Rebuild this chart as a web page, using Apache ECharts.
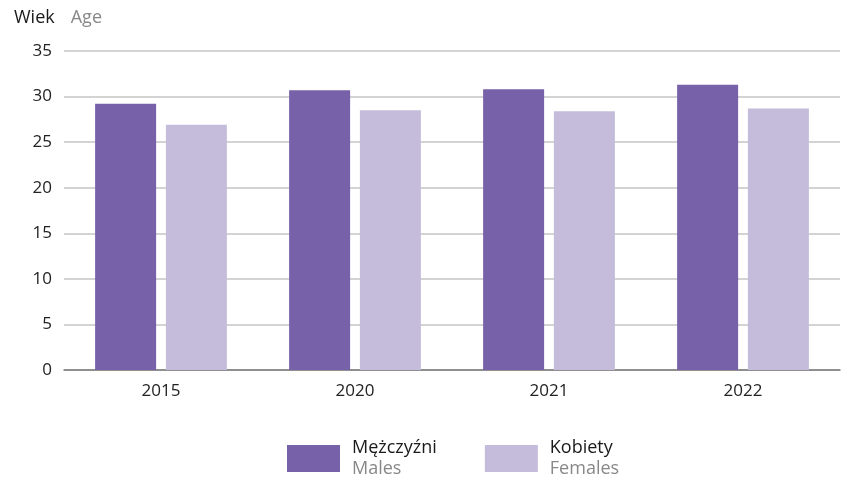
<!DOCTYPE html>
<html>
<head>
<meta charset="utf-8">
<script src="https://cdn.jsdelivr.net/npm/echarts@6/dist/echarts.min.js"></script>
<style>
  html, body { margin: 0; padding: 0; background: #fff; }
  #chart { width: 849px; height: 481px; }
</style>
</head>
<body>
<div id="chart"></div>
<script>
const years = ["2015", "2020", "2021", "2022"];
const males = [29.2, 30.7, 30.8, 31.3];
const females = [26.9, 28.5, 28.4, 28.7];
const legendNames = { "Mężczyźni": "Males", "Kobiety": "Females" };

const font = "Open Sans";
const chart = echarts.init(document.getElementById("chart"));

const option = {
  animation: false,
  textStyle: { fontFamily: font },
  title: {
    text: "{a|Wiek}{b|Age}",
    left: 9,
    top: 4,
    textStyle: {
      rich: {
        a: { fontFamily: font, fontSize: 18, fontWeight: "normal", color: "#1a1a1a", padding: [0, 16, 0, 0] },
        b: { fontFamily: font, fontSize: 18, fontWeight: "normal", color: "#888" },
      },
    },
  },
  grid: {
    left: 64,
    right: 9,
    top: 51,
    bottom: 111,
  },
  xAxis: {
    type: "category",
    data: years,
    axisTick: { show: false },
    axisLine: { lineStyle: { color: "#7a7a7a", width: 1.5 } },
    axisLabel: { color: "#222", fontSize: 17, margin: 13 },
  },
  yAxis: {
    type: "value",
    min: 0,
    max: 35,
    interval: 5,
    axisLabel: { color: "#222", fontSize: 17, margin: 12 },
    splitLine: { lineStyle: { color: "#c4c4c4", width: 1.5 } },
  },
  legend: {
    top: 434,
    left: 282,
    itemWidth: 53,
    itemHeight: 27,
    itemGap: 48,
    icon: "rect",
    formatter: (name) => "{a|" + name + "}\n{b|" + legendNames[name] + "}",
    textStyle: {
      rich: {
        a: { fontFamily: font, fontSize: 18, color: "#1a1a1a", lineHeight: 21, padding: [0, 0, 0, 7] },
        b: { fontFamily: font, fontSize: 18, color: "#888", lineHeight: 21, padding: [0, 0, 0, 7] },
      },
    },
  },
  series: [
    {
      name: "Mężczyźni",
      type: "bar",
      data: males,
      barWidth: 61,
      barGap: "16%",
      itemStyle: { color: "#7761a8" },
    },
    {
      name: "Kobiety",
      type: "bar",
      data: females,
      barWidth: 61,
      itemStyle: { color: "#c4bcda" },
    },
  ],
};

chart.setOption(option);
</script>
</body>
</html>
